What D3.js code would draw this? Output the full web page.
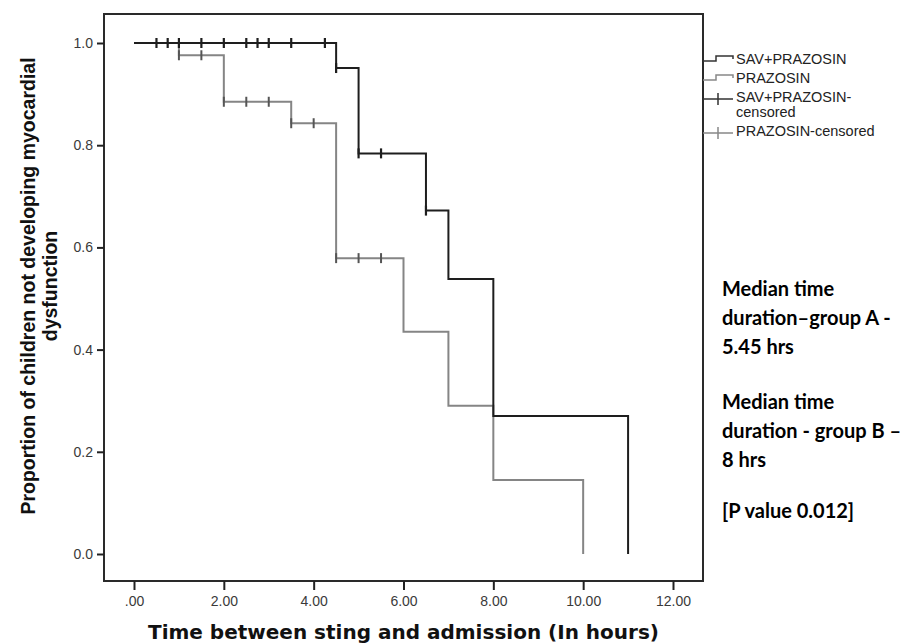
<!DOCTYPE html>
<html>
<head>
<meta charset="utf-8">
<script src="https://cdn.jsdelivr.net/npm/d3@7"></script>
<style>
  body { margin: 0; background: #fff; }
  svg { display: block; }
  .tick line { stroke: #222; stroke-width: 2; }
</style>
</head>
<body>
<script>
// Kaplan-Meier steps, group A (SAV+PRAZOSIN)
const savTimes = [0, 4.5, 5.0, 6.5, 7.0, 8.0, 11.0];
const savSurv = [1.0, 0.951, 0.784, 0.672, 0.538, 0.270, 0.0];
const savCensTimes = [0.5, 0.75, 1.0, 1.5, 2.0, 2.5, 2.75, 3.0, 3.5, 4.25, 4.5, 5.0, 5.5, 6.5];
const savCensSurv = [1, 1, 1, 1, 1, 1, 1, 1, 1, 1, 0.951, 0.784, 0.784, 0.672];

// group B (PRAZOSIN)
const prazTimes = [0, 1.0, 2.0, 3.5, 4.5, 6.0, 7.0, 8.0, 10.0];
const prazSurv = [1.0, 0.976, 0.885, 0.843, 0.579, 0.435, 0.290, 0.145, 0.0];
const prazCensTimes = [1.0, 1.5, 2.0, 2.5, 3.0, 3.5, 4.0, 4.5, 5.0, 5.5];
const prazCensSurv = [0.976, 0.976, 0.885, 0.885, 0.885, 0.843, 0.843, 0.579, 0.579, 0.579];

const xTicks = [0, 2, 4, 6, 8, 10, 12];
const yTicks = [0, 0.2, 0.4, 0.6, 0.8, 1.0];
const legendLabels = [['SAV+PRAZOSIN'], ['PRAZOSIN'], ['SAV+PRAZOSIN-', 'censored'], ['PRAZOSIN-censored']];
const notes = [
  ['Median time', 'duration\u2013group A -', '5.45 hrs'],
  ['Median time', 'duration - group B \u2013', '8 hrs'],
  ['[P value 0.012]']
];

const width = 922;
const height = 643;
const frame = { left: 104, right: 703, top: 14, bottom: 581 };

const darkCol = '#1e1e1e';
const greyCol = '#858585';

const svg = d3.select('body')
  .append('svg')
  .attr('width', width)
  .attr('height', height);

const x = d3.scaleLinear().domain([0, 12]).range([134, 673]);
const y = d3.scaleLinear().domain([0, 1]).range([554, 43]);

// plot frame
svg.append('rect')
  .attr('x', frame.left)
  .attr('y', frame.top)
  .attr('width', frame.right - frame.left)
  .attr('height', frame.bottom - frame.top)
  .attr('fill', 'none')
  .attr('stroke', '#2a2a2a')
  .attr('stroke-width', 2);

// axes
const styleTicks = g => {
  g.select('.domain').remove();
  g.selectAll('.tick text')
    .style('font-family', '"Liberation Sans", Arial, sans-serif')
    .style('font-size', '14px')
    .attr('fill', '#3a3a3a');
};

const xAxis = d3.axisBottom(x)
  .tickValues(xTicks)
  .tickSizeInner(9)
  .tickSizeOuter(0)
  .tickPadding(6)
  .tickFormat(d => d === 0 ? '.00' : d.toFixed(2));

svg.append('g')
  .attr('transform', `translate(0, ${frame.bottom})`)
  .call(xAxis)
  .call(styleTicks);

const yAxis = d3.axisLeft(y)
  .tickValues(yTicks)
  .tickSizeInner(7)
  .tickSizeOuter(0)
  .tickPadding(4)
  .tickFormat(d => d.toFixed(1));

svg.append('g')
  .attr('transform', `translate(${frame.left}, 0)`)
  .call(yAxis)
  .call(styleTicks);

// axis titles
svg.append('text')
  .attr('x', (frame.left + frame.right) / 2)
  .attr('y', 639)
  .attr('text-anchor', 'middle')
  .style('font-family', '"DejaVu Sans", Verdana, sans-serif')
  .style('font-weight', 'bold')
  .style('font-size', '20px')
  .attr('fill', '#111')
  .text('Time between sting and admission (In hours)');

const yTitle = svg.append('text')
  .attr('transform', 'translate(0, 286) rotate(-90)')
  .attr('text-anchor', 'middle')
  .style('font-family', '"Liberation Sans", Arial, sans-serif')
  .style('font-weight', 'bold')
  .style('font-size', '19.5px')
  .attr('fill', '#111');
yTitle.append('tspan').attr('x', 0).attr('y', 35).text('Proportion of children not developing myocardial');
yTitle.append('tspan').attr('x', 0).attr('y', 57).text('dysfunction');

// survival curves
const line = d3.line()
  .x(d => x(d[0]))
  .y(d => y(d[1]))
  .curve(d3.curveStepAfter);

svg.append('path')
  .datum(d3.zip(prazTimes, prazSurv))
  .attr('d', line)
  .attr('fill', 'none')
  .attr('stroke', greyCol)
  .attr('stroke-width', 2);

svg.append('path')
  .datum(d3.zip(savTimes, savSurv))
  .attr('d', line)
  .attr('fill', 'none')
  .attr('stroke', darkCol)
  .attr('stroke-width', 2);

// censored marks
svg.append('g')
  .selectAll('line')
  .data(d3.zip(prazCensTimes, prazCensSurv))
  .join('line')
  .attr('x1', d => x(d[0]))
  .attr('x2', d => x(d[0]))
  .attr('y1', d => y(d[1]) - 5)
  .attr('y2', d => y(d[1]) + 5)
  .attr('stroke', '#555')
  .attr('stroke-width', 2);

svg.append('g')
  .selectAll('line')
  .data(d3.zip(savCensTimes, savCensSurv))
  .join('line')
  .attr('x1', d => x(d[0]))
  .attr('x2', d => x(d[0]))
  .attr('y1', d => y(d[1]) - 5)
  .attr('y2', d => y(d[1]) + 5)
  .attr('stroke', darkCol)
  .attr('stroke-width', 2.2);

// legend
const leg = svg.append('g')
  .style('font-family', '"Liberation Sans", Arial, sans-serif')
  .style('font-size', '14.5px')
  .attr('fill', '#222');

const legRows = [61, 80, 99, 133];
legendLabels.forEach((lab, i) => {
  const yy = legRows[i];
  if (i < 2) {
    leg.append('path')
      .attr('d', `M${frame.right},${yy} H716 V${yy - 5} H733 V${yy - 2}`)
      .attr('fill', 'none')
      .attr('stroke', i === 0 ? '#333' : '#888')
      .attr('stroke-width', 1.5);
  } else {
    leg.append('path')
      .attr('d', `M${frame.right},${yy} H733 M718,${yy - 6} V${yy + 6}`)
      .attr('fill', 'none')
      .attr('stroke', i === 2 ? '#333' : '#888')
      .attr('stroke-width', 1.5);
  }
  const t = leg.append('text').attr('x', 736).attr('y', yy - 2);
  lab.forEach((s, j) => {
    t.append('tspan').attr('x', 736).attr('dy', j === 0 ? '0.32em' : 15.5).text(s);
  });
});

// notes
const noteTop = [296, 409, 518];
notes.forEach((block, i) => {
  const t = svg.append('text')
    .attr('x', 722)
    .attr('y', noteTop[i])
    .style('font-family', 'Lato, "Open Sans", sans-serif')
    .style('font-weight', 'bold')
    .style('font-size', '20px')
    .attr('fill', '#000');
  block.forEach((s, j) => {
    t.append('tspan').attr('x', 722).attr('y', noteTop[i] + j * 29).text(s);
  });
});
</script>
</body>
</html>
